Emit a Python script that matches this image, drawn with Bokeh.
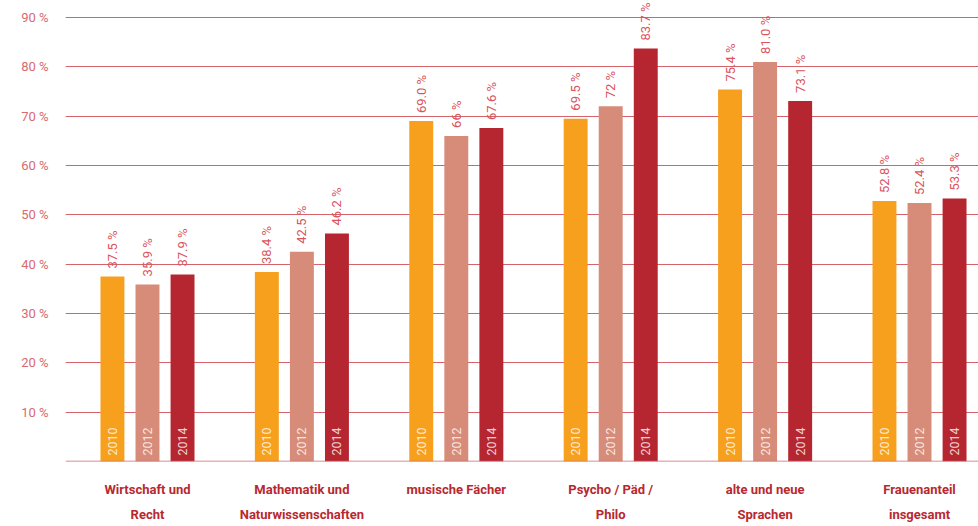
from bokeh.plotting import figure
from bokeh.models import ColumnDataSource, FixedTicker, Span
from bokeh.core.properties import value
from bokeh.embed import file_html
from bokeh.resources import INLINE

categories = ["Wirtschaft und\nRecht", "Mathematik und\nNaturwissenschaften", "musische Fächer",
              "Psycho / Päd /\nPhilo", "alte und neue\nSprachen", "Frauenanteil\ninsgesamt"]
years = ["2010", "2012", "2014"]
v2010 = [37.5, 38.4, 69.0, 69.5, 75.4, 52.8]
v2012 = [35.9, 42.5, 66.0, 72.0, 81.0, 52.4]
v2014 = [37.9, 46.2, 67.6, 83.7, 73.1, 53.3]
lab2010 = ["37.5 %", "38.4 %", "69.0 %", "69.5 %", "75.4 %", "52.8 %"]
lab2012 = ["35.9 %", "42.5 %", "66 %", "72 %", "81.0 %", "52.4 %"]
lab2014 = ["37.9 %", "46.2 %", "67.6 %", "83.7 %", "73.1 %", "53.3 %"]
yticks = [10, 20, 30, 40, 50, 60, 70, 80, 90]

colors = ["#F7A01E", "#D68C78", "#B52630"]
offsets = [-0.227, 0.0, 0.227]
FONT = "Roboto"

p = figure(width=978, height=526, output_backend="svg", toolbar_location=None,
           x_range=(-0.531, 5.382), y_range=(0, 93.45),
           min_border_left=65, min_border_right=0, min_border_top=0, min_border_bottom=65)
p.outline_line_color = None
p.background_fill_color = "white"
p.border_fill_color = "white"

# grid
p.xgrid.grid_line_color = None
p.ygrid.ticker = FixedTicker(ticks=yticks)
p.ygrid.grid_line_color = "#CC4850"
p.ygrid.grid_line_width = 1
p.ygrid.grid_line_alpha = 0.85
p.add_layout(Span(location=0, dimension="width", line_color="#D0666C", line_width=1.5))

for vals, labs, col, off, yr in zip([v2010, v2012, v2014], [lab2010, lab2012, lab2014], colors, offsets, years):
    xs = [i + off for i in range(len(vals))]
    src = ColumnDataSource(dict(x=xs, top=vals, lab=labs, yr=[yr] * len(vals)))
    p.vbar(x="x", top="top", bottom=0, width=0.155, source=src, fill_color=col, line_color=None)
    p.text(x="x", y="top", text="lab", source=src, angle=1.5708, x_offset=0, y_offset=-8,
           text_align="left", text_baseline="middle", text_color="#D9545D",
           text_font=value(FONT), text_font_size="13px")
    p.text(x="x", y=0, text="yr", source=src, angle=1.5708, y_offset=-6,
           text_align="left", text_baseline="middle", text_color="white", text_alpha=0.8,
           text_font=value(FONT), text_font_size="12.5px")

# axes
p.yaxis.ticker = FixedTicker(ticks=yticks)
p.yaxis.major_label_overrides = {t: f"{t} %" for t in yticks}
p.yaxis.axis_line_color = None
p.yaxis.major_tick_line_color = None
p.yaxis.minor_tick_line_color = None
p.yaxis.major_label_text_color = "#D86A70"
p.yaxis.major_label_text_font = FONT
p.yaxis.major_label_text_font_size = "13px"
p.yaxis.major_label_standoff = 11

p.xaxis.ticker = FixedTicker(ticks=list(range(len(categories))))
p.xaxis.major_label_overrides = {i: c for i, c in enumerate(categories)}
p.xaxis.axis_line_color = None
p.xaxis.major_tick_line_color = None
p.xaxis.minor_tick_line_color = None
p.xaxis.major_label_text_color = "#B8282F"
p.xaxis.major_label_text_font = FONT
p.xaxis.major_label_text_font_style = "bold"
p.xaxis.major_label_text_font_size = "13px"
p.xaxis.major_label_text_line_height = 1.7
p.xaxis.major_label_standoff = 14

open("out.html", "w").write(file_html(p, INLINE))
